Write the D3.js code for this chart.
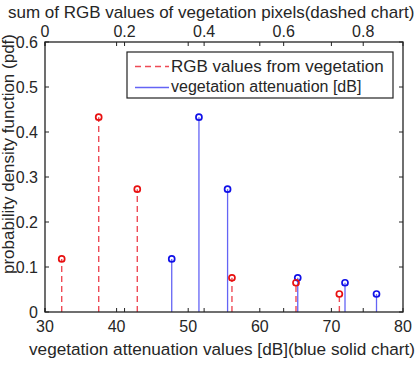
<!DOCTYPE html>
<html>
<head>
<meta charset="utf-8">
<script src="https://cdn.jsdelivr.net/npm/d3@7"></script>
<style>
  body { margin: 0; background: #fff; }
  text { font-family: "Liberation Sans", Arial, sans-serif; fill: #262626; }
</style>
</head>
<body>
<div id="chart"></div>
<script>
// vegetation attenuation [dB] (bottom axis, blue solid stems)
const attenX = [47.7, 51.5, 55.5, 65.3, 71.9, 76.3];
const attenPdf = [0.118, 0.433, 0.273, 0.076, 0.065, 0.040];
// RGB sums (top axis, red dashed stems)
const rgbX = [0.042, 0.135, 0.232, 0.470, 0.631, 0.740];
const rgbPdf = [0.118, 0.433, 0.273, 0.076, 0.065, 0.040];

const bottomTicks = [30, 40, 50, 60, 70, 80];
const topTicks = [0, 0.2, 0.4, 0.6, 0.8];
const yTicks = [0, 0.1, 0.2, 0.3, 0.4, 0.5, 0.6];

const width = 418, height = 368;
const plotL = 45, plotR = 403, plotT = 42, plotB = 312;
const tickLen = 4;

const svg = d3.select("#chart").append("svg")
    .attr("width", width)
    .attr("height", height);

const x = d3.scaleLinear().domain([30, 80]).range([plotL, plotR]);
const xTop = d3.scaleLinear().domain([0, 0.9]).range([plotL, plotR]);
const y = d3.scaleLinear().domain([0, 0.6]).range([plotB, plotT]);

// ticks, all pointing inward, mirrored on the opposite side
const tickG = svg.append("g").attr("stroke", "#222").attr("stroke-width", 1);
bottomTicks.forEach(v => {
    tickG.append("line").attr("x1", x(v)).attr("x2", x(v)).attr("y1", plotB).attr("y2", plotB - tickLen);
    tickG.append("line").attr("x1", x(v)).attr("x2", x(v)).attr("y1", plotT).attr("y2", plotT + tickLen);
});
topTicks.forEach(v => {
    tickG.append("line").attr("x1", xTop(v)).attr("x2", xTop(v)).attr("y1", plotT).attr("y2", plotT + tickLen);
    tickG.append("line").attr("x1", xTop(v)).attr("x2", xTop(v)).attr("y1", plotB).attr("y2", plotB - tickLen);
});
yTicks.forEach(v => {
    tickG.append("line").attr("x1", plotL).attr("x2", plotL + tickLen).attr("y1", y(v)).attr("y2", y(v));
    tickG.append("line").attr("x1", plotR).attr("x2", plotR - tickLen).attr("y1", y(v)).attr("y2", y(v));
});

// tick labels
svg.append("g").selectAll("text")
    .data(bottomTicks).enter().append("text")
    .attr("x", d => x(d)).attr("y", 332)
    .attr("text-anchor", "middle")
    .style("font-size", "16px")
    .text(d => d);

svg.append("g").selectAll("text")
    .data(topTicks).enter().append("text")
    .attr("x", d => xTop(d)).attr("y", 37)
    .attr("text-anchor", "middle")
    .style("font-size", "16px")
    .text(d => d === 0 ? "0" : d.toFixed(1));

svg.append("g").selectAll("text")
    .data(yTicks).enter().append("text")
    .attr("x", 38).attr("y", d => y(d) + 5.5)
    .attr("text-anchor", "end")
    .style("font-size", "16px")
    .text(d => d === 0 ? "0" : d.toFixed(1));

// axis titles
svg.append("text")
    .attr("x", 8).attr("y", 18)
    .style("font-size", "17px")
    .text("sum of RGB values of vegetation pixels(dashed chart)");

svg.append("text")
    .attr("x", 222).attr("y", 355)
    .attr("text-anchor", "middle")
    .style("font-size", "17.2px")
    .text("vegetation attenuation values [dB](blue solid chart)");

svg.append("text")
    .attr("transform", `translate(14, 154) rotate(-90)`)
    .attr("text-anchor", "middle")
    .style("font-size", "17px")
    .text("probability density function (pdf)");

// blue stems
const blue = svg.append("g");
blue.selectAll("line")
    .data(attenX).enter().append("line")
    .attr("x1", d => x(d)).attr("x2", d => x(d))
    .attr("y1", y(0)).attr("y2", (d, i) => y(attenPdf[i]))
    .attr("stroke", "#6464f5").attr("stroke-width", 1.3);
blue.selectAll("circle")
    .data(attenX).enter().append("circle")
    .attr("cx", d => x(d)).attr("cy", (d, i) => y(attenPdf[i]))
    .attr("r", 3).attr("fill", "none")
    .attr("stroke", "#1010e8").attr("stroke-width", 1.7);

// red dashed stems
const red = svg.append("g");
red.selectAll("line")
    .data(rgbX).enter().append("line")
    .attr("x1", d => xTop(d)).attr("x2", d => xTop(d))
    .attr("y1", y(0)).attr("y2", (d, i) => y(rgbPdf[i]))
    .attr("stroke", "#ee4a55").attr("stroke-width", 1.4)
    .attr("stroke-dasharray", "6,4");
red.selectAll("circle")
    .data(rgbX).enter().append("circle")
    .attr("cx", d => xTop(d)).attr("cy", (d, i) => y(rgbPdf[i]))
    .attr("r", 3).attr("fill", "none")
    .attr("stroke", "#e81010").attr("stroke-width", 1.7);

// plot box
svg.append("rect")
    .attr("x", plotL).attr("y", plotT)
    .attr("width", plotR - plotL).attr("height", plotB - plotT)
    .attr("fill", "none").attr("stroke", "#222").attr("stroke-width", 1.3);

// legend
const legend = svg.append("g");
legend.append("rect")
    .attr("x", 127).attr("y", 52)
    .attr("width", 266).attr("height", 46)
    .attr("fill", "#fff").attr("stroke", "#222").attr("stroke-width", 1.2);
legend.append("line")
    .attr("x1", 135).attr("x2", 169).attr("y1", 66.5).attr("y2", 66.5)
    .attr("stroke", "#ee4a55").attr("stroke-width", 1.3)
    .attr("stroke-dasharray", "6,4");
legend.append("text")
    .attr("x", 171).attr("y", 72)
    .style("font-size", "17px")
    .text("RGB values from vegetation");
legend.append("line")
    .attr("x1", 135).attr("x2", 169).attr("y1", 87.5).attr("y2", 87.5)
    .attr("stroke", "#6464f5").attr("stroke-width", 1.3);
legend.append("text")
    .attr("x", 171).attr("y", 92)
    .style("font-size", "16px")
    .text("vegetation attenuation [dB]");
</script>
</body>
</html>
